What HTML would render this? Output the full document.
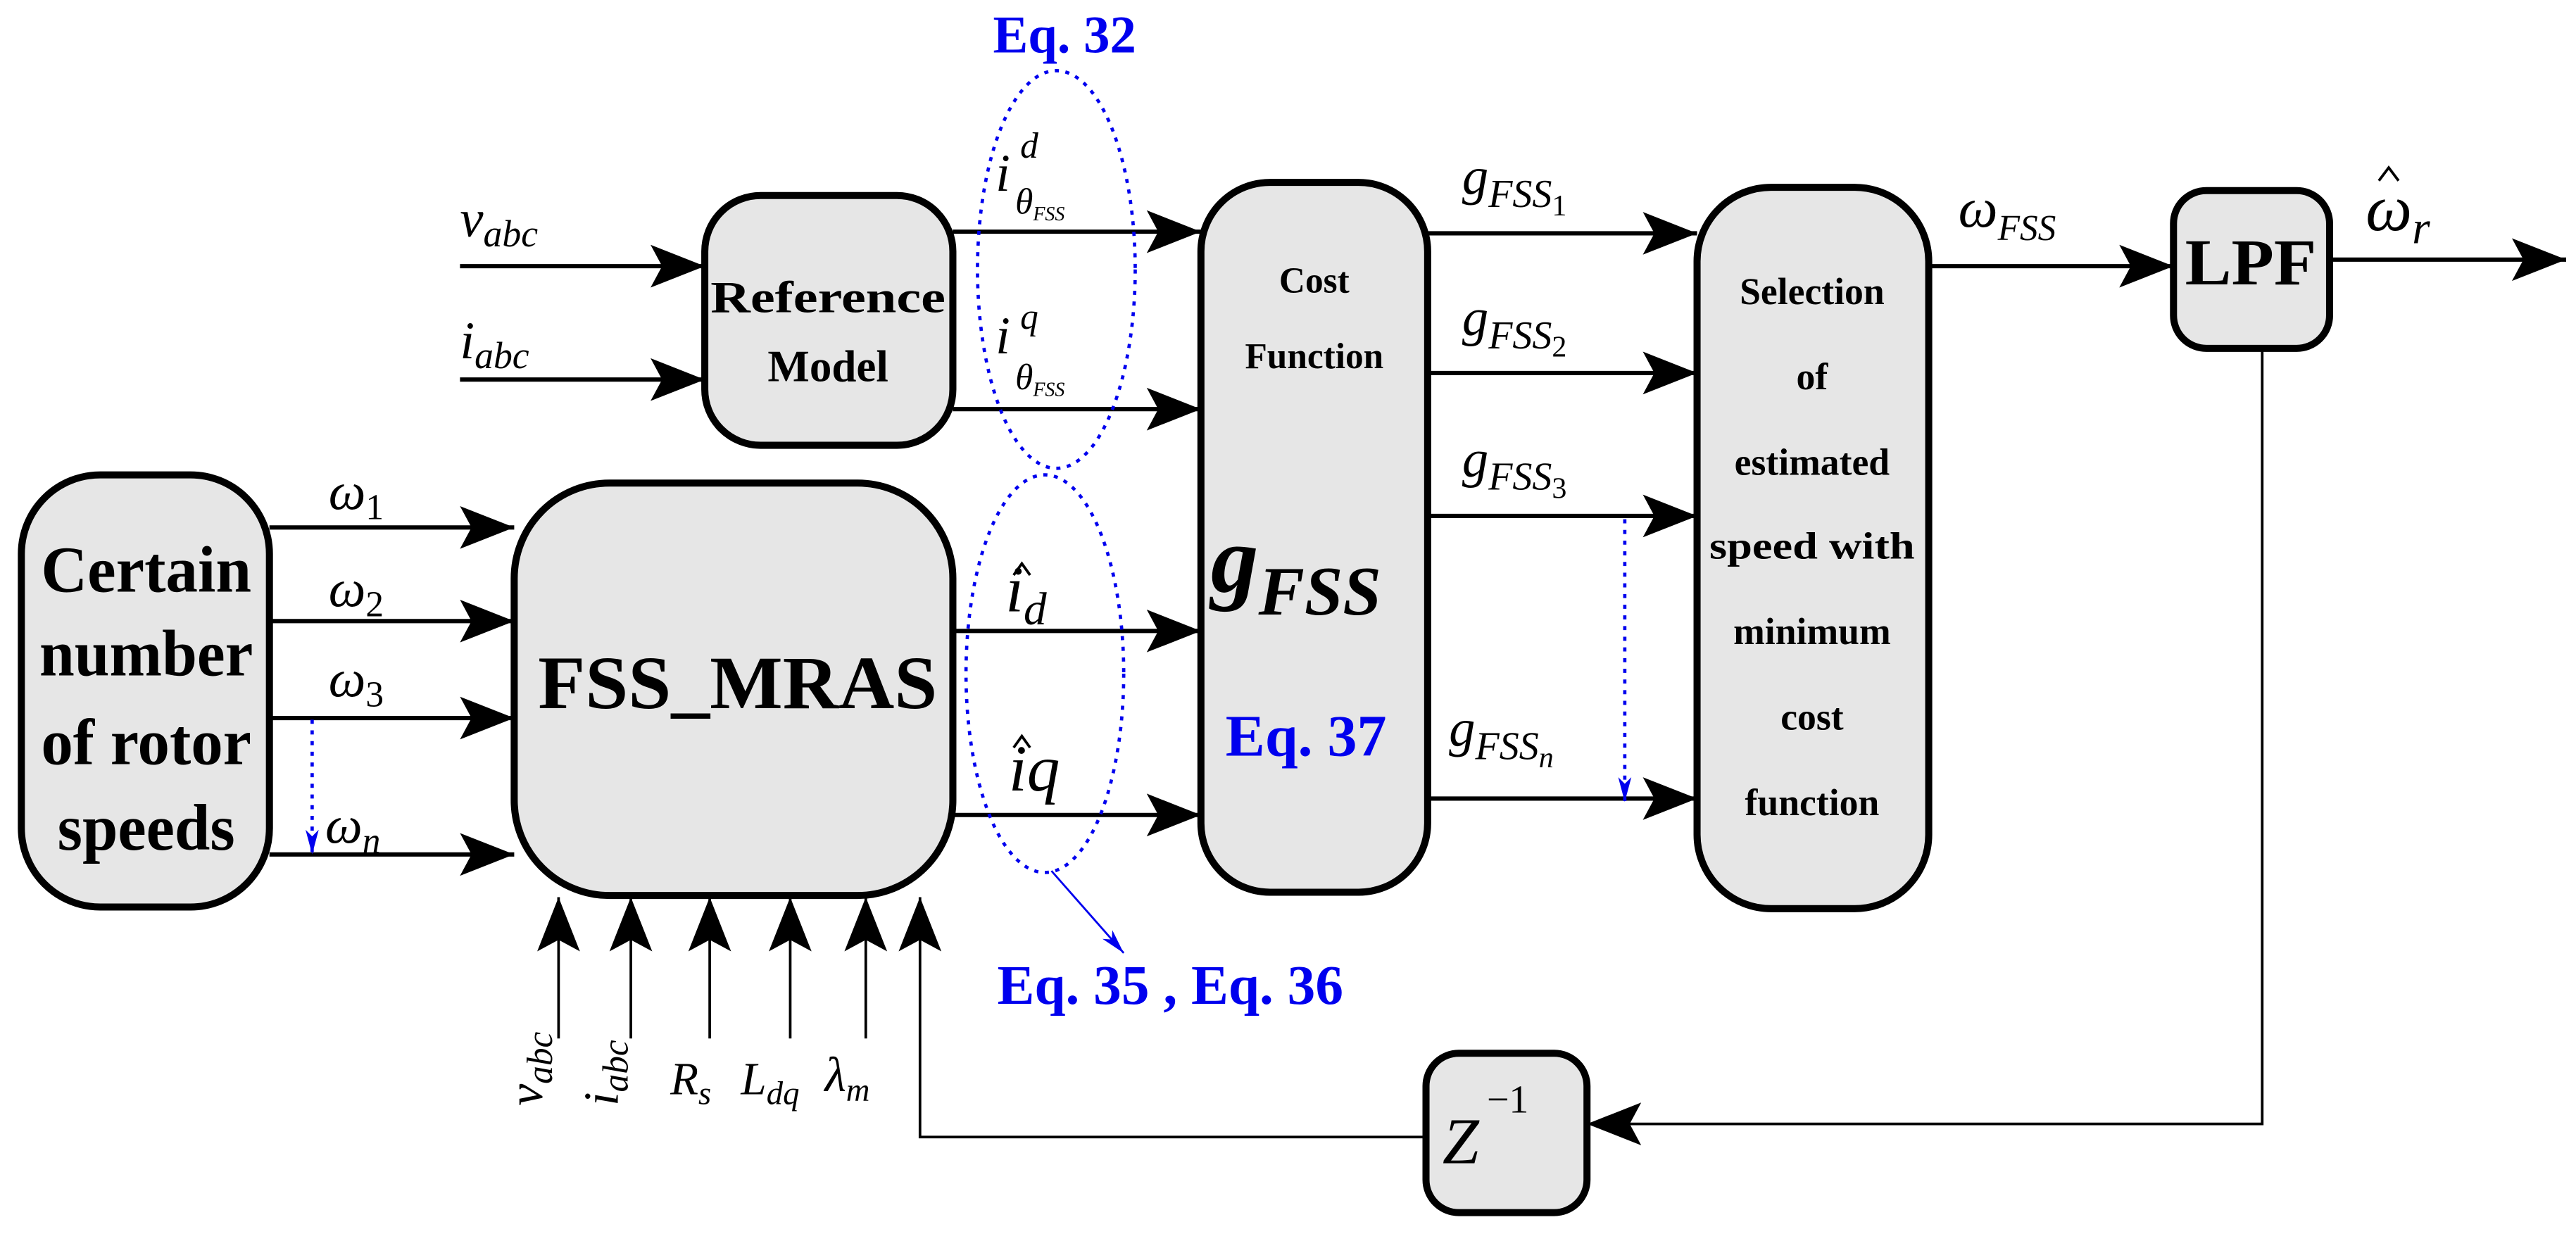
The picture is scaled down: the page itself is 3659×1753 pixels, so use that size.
<!DOCTYPE html>
<html><head><meta charset="utf-8"><style>
html,body{margin:0;padding:0;background:#fff;}
svg{display:block;}
.m{font-family:"Liberation Serif",serif;font-style:italic;fill:#000;}
.b{font-family:"Liberation Serif",serif;font-weight:bold;fill:#000;}
.bl{font-family:"Liberation Serif",serif;font-weight:bold;fill:#0000ee;}
</style></head><body>
<svg width="3659" height="1753" viewBox="0 0 1568 751" preserveAspectRatio="none" xmlns="http://www.w3.org/2000/svg">
<defs>
<marker id="a" markerUnits="userSpaceOnUse" markerWidth="40" markerHeight="30" viewBox="-35 -15 40 30" refX="0" refY="0" orient="auto"><path d="M0,0 L-33,-13 L-26,0 L-33,13 Z" fill="#000"/></marker>
<marker id="bA" markerUnits="userSpaceOnUse" markerWidth="20" markerHeight="30" viewBox="-35 -15 40 30" refX="0" refY="0" orient="auto"><path d="M0,0 L-30,-8 L-22,0 L-30,8 Z" fill="#0000ee"/></marker>
</defs>
<rect x="0" y="0" width="1568" height="751" fill="#fff"/>
<g fill="#e6e6e6" stroke="#000" stroke-width="4.3">
<rect x="13" y="289" width="151" height="263" rx="48"/>
<rect x="313" y="294" width="267" height="251" rx="58"/>
<rect x="429" y="119" width="151" height="152" rx="34"/>
<rect x="731" y="111" width="138" height="432" rx="42"/>
<rect x="1033" y="114" width="141" height="439" rx="45"/>
<rect x="1323" y="116" width="95" height="96" rx="20"/>
<rect x="868" y="641" width="98" height="97" rx="20"/>
</g>
<g stroke="#000" stroke-width="2.6" fill="none" marker-end="url(#a)">
<line x1="280" y1="162" x2="429" y2="162"/>
<line x1="280" y1="231" x2="429" y2="231"/>
<line x1="580" y1="141" x2="731" y2="141"/>
<line x1="580" y1="249" x2="731" y2="249"/>
<line x1="164" y1="321" x2="313" y2="321"/>
<line x1="164" y1="378" x2="313" y2="378"/>
<line x1="164" y1="437" x2="313" y2="437"/>
<line x1="164" y1="520" x2="313" y2="520"/>
<line x1="580" y1="384" x2="731" y2="384"/>
<line x1="580" y1="496" x2="731" y2="496"/>
<line x1="869" y1="142" x2="1033" y2="142"/>
<line x1="869" y1="227" x2="1033" y2="227"/>
<line x1="869" y1="314" x2="1033" y2="314"/>
<line x1="869" y1="486" x2="1033" y2="486"/>
<line x1="1174" y1="162" x2="1323" y2="162"/>
<line x1="1418" y1="158" x2="1562" y2="158"/>
</g>
<g stroke="#000" stroke-width="1.6" fill="none" marker-end="url(#a)">
<line x1="340" y1="632" x2="340" y2="546"/>
<line x1="384" y1="632" x2="384" y2="546"/>
<line x1="432" y1="632" x2="432" y2="546"/>
<line x1="481" y1="632" x2="481" y2="546"/>
<line x1="527" y1="632" x2="527" y2="546"/>
<polyline points="868,692 560,692 560,546"/>
<polyline points="1377,212 1377,684 966,684"/>
</g>
<g stroke="#0000ee" stroke-width="2" fill="none" stroke-dasharray="2.5 4">
<ellipse cx="643" cy="164" rx="48" ry="121"/>
<ellipse cx="636" cy="410" rx="48" ry="121"/>
<line x1="190" y1="438" x2="190" y2="520" marker-end="url(#bA)"/>
<line x1="989" y1="316" x2="989" y2="488" marker-end="url(#bA)"/>
</g>
<line x1="640" y1="530" x2="684" y2="580" stroke="#0000ee" stroke-width="1.2" marker-end="url(#bA)"/>
<g class="b" text-anchor="middle">
<text x="89" y="360" font-size="40" textLength="128" lengthAdjust="spacingAndGlyphs">Certain</text>
<text x="89" y="411" font-size="40" textLength="130" lengthAdjust="spacingAndGlyphs">number</text>
<text x="89" y="465" font-size="40" textLength="128" lengthAdjust="spacingAndGlyphs">of rotor</text>
<text x="89" y="517" font-size="40" textLength="108" lengthAdjust="spacingAndGlyphs">speeds</text>
<text x="449" y="431" font-size="46" textLength="243" lengthAdjust="spacingAndGlyphs">FSS_MRAS</text>
<text x="504" y="190" font-size="27" textLength="143" lengthAdjust="spacingAndGlyphs">Reference</text>
<text x="504" y="232" font-size="27">Model</text>
<text x="800" y="178" font-size="22">Cost</text>
<text x="800" y="224" font-size="22">Function</text>
<text x="1103" y="185" font-size="23">Selection</text>
<text x="1103" y="237" font-size="23">of</text>
<text x="1103" y="289" font-size="23">estimated</text>
<text x="1103" y="340" font-size="23" textLength="125" lengthAdjust="spacingAndGlyphs">speed with</text>
<text x="1103" y="392" font-size="23">minimum</text>
<text x="1103" y="444" font-size="23">cost</text>
<text x="1103" y="496" font-size="23">function</text>
<text x="1370" y="173" font-size="40" textLength="80" lengthAdjust="spacingAndGlyphs">LPF</text>
</g>
<text class="b" x="737" y="360" font-size="58" font-style="italic">g<tspan font-size="42" dy="14">FSS</tspan></text>
<text class="bl" x="795" y="460" font-size="36" text-anchor="middle">Eq. 37</text>
<text class="bl" x="648" y="32" font-size="32" text-anchor="middle">Eq. 32</text>
<text class="bl" x="607" y="611" font-size="34">Eq. 35  , Eq. 36</text>
<g class="m">
<text x="280" y="144" font-size="32">v<tspan font-size="23" dy="6">abc</tspan></text>
<text x="280" y="218" font-size="32">i<tspan font-size="23" dy="6">abc</tspan></text>
<text x="606" y="116" font-size="32">i</text>
<text x="621" y="96" font-size="22">d</text>
<text x="618" y="130" font-size="22">θ<tspan font-size="12" dy="4">FSS</tspan></text>
<text x="606" y="215" font-size="32">i</text>
<text x="621" y="200" font-size="22">q</text>
<text x="618" y="237" font-size="22">θ<tspan font-size="12" dy="4">FSS</tspan></text>
<text x="200" y="310" font-size="32">ω<tspan font-size="22" dy="6" font-style="normal">1</tspan></text>
<text x="200" y="369" font-size="32">ω<tspan font-size="22" dy="6" font-style="normal">2</tspan></text>
<text x="200" y="424" font-size="32">ω<tspan font-size="22" dy="6" font-style="normal">3</tspan></text>
<text x="198" y="513" font-size="32">ω<tspan font-size="22" dy="6">n</tspan></text>
<text x="612" y="372" font-size="40">i<tspan font-size="28" dy="8">d</tspan></text>
<text x="614" y="481" font-size="40">iq</text>
<text x="890" y="118" font-size="32">g<tspan font-size="24" dy="8">FSS</tspan><tspan font-size="18" dy="5" font-style="normal">1</tspan></text>
<text x="890" y="204" font-size="32">g<tspan font-size="24" dy="8">FSS</tspan><tspan font-size="18" dy="5" font-style="normal">2</tspan></text>
<text x="890" y="290" font-size="32">g<tspan font-size="24" dy="8">FSS</tspan><tspan font-size="18" dy="5" font-style="normal">3</tspan></text>
<text x="882" y="454" font-size="32">g<tspan font-size="24" dy="8">FSS</tspan><tspan font-size="18" dy="5">n</tspan></text>
<text x="1192" y="138" font-size="34">ω<tspan font-size="22" dy="8">FSS</tspan></text>
<text x="1440" y="140" font-size="40">ω<tspan font-size="28" dy="8">r</tspan></text>
<text x="408" y="666" font-size="28">R<tspan font-size="20" dy="6">s</tspan></text>
<text x="451" y="666" font-size="28">L<tspan font-size="20" dy="6">dq</tspan></text>
<text x="502" y="664" font-size="30">λ<tspan font-size="20" dy="6">m</tspan></text>
<text transform="translate(330,673) rotate(-90)" font-size="30">v<tspan font-size="22" dy="6">abc</tspan></text>
<text transform="translate(376,673) rotate(-90)" font-size="30">i<tspan font-size="22" dy="6">abc</tspan></text>
<text x="878" y="708" font-size="40">Z</text>
<text x="905" y="677" font-size="24" font-style="normal">−1</text>
</g>
<g stroke="#000" stroke-width="1.6" fill="none">
<polyline points="617,350 622,343 627,350"/>
<polyline points="617,455 622,448 627,455"/>
<polyline points="1448,110 1454,102 1460,110"/>
</g>
</svg>
</body></html>
